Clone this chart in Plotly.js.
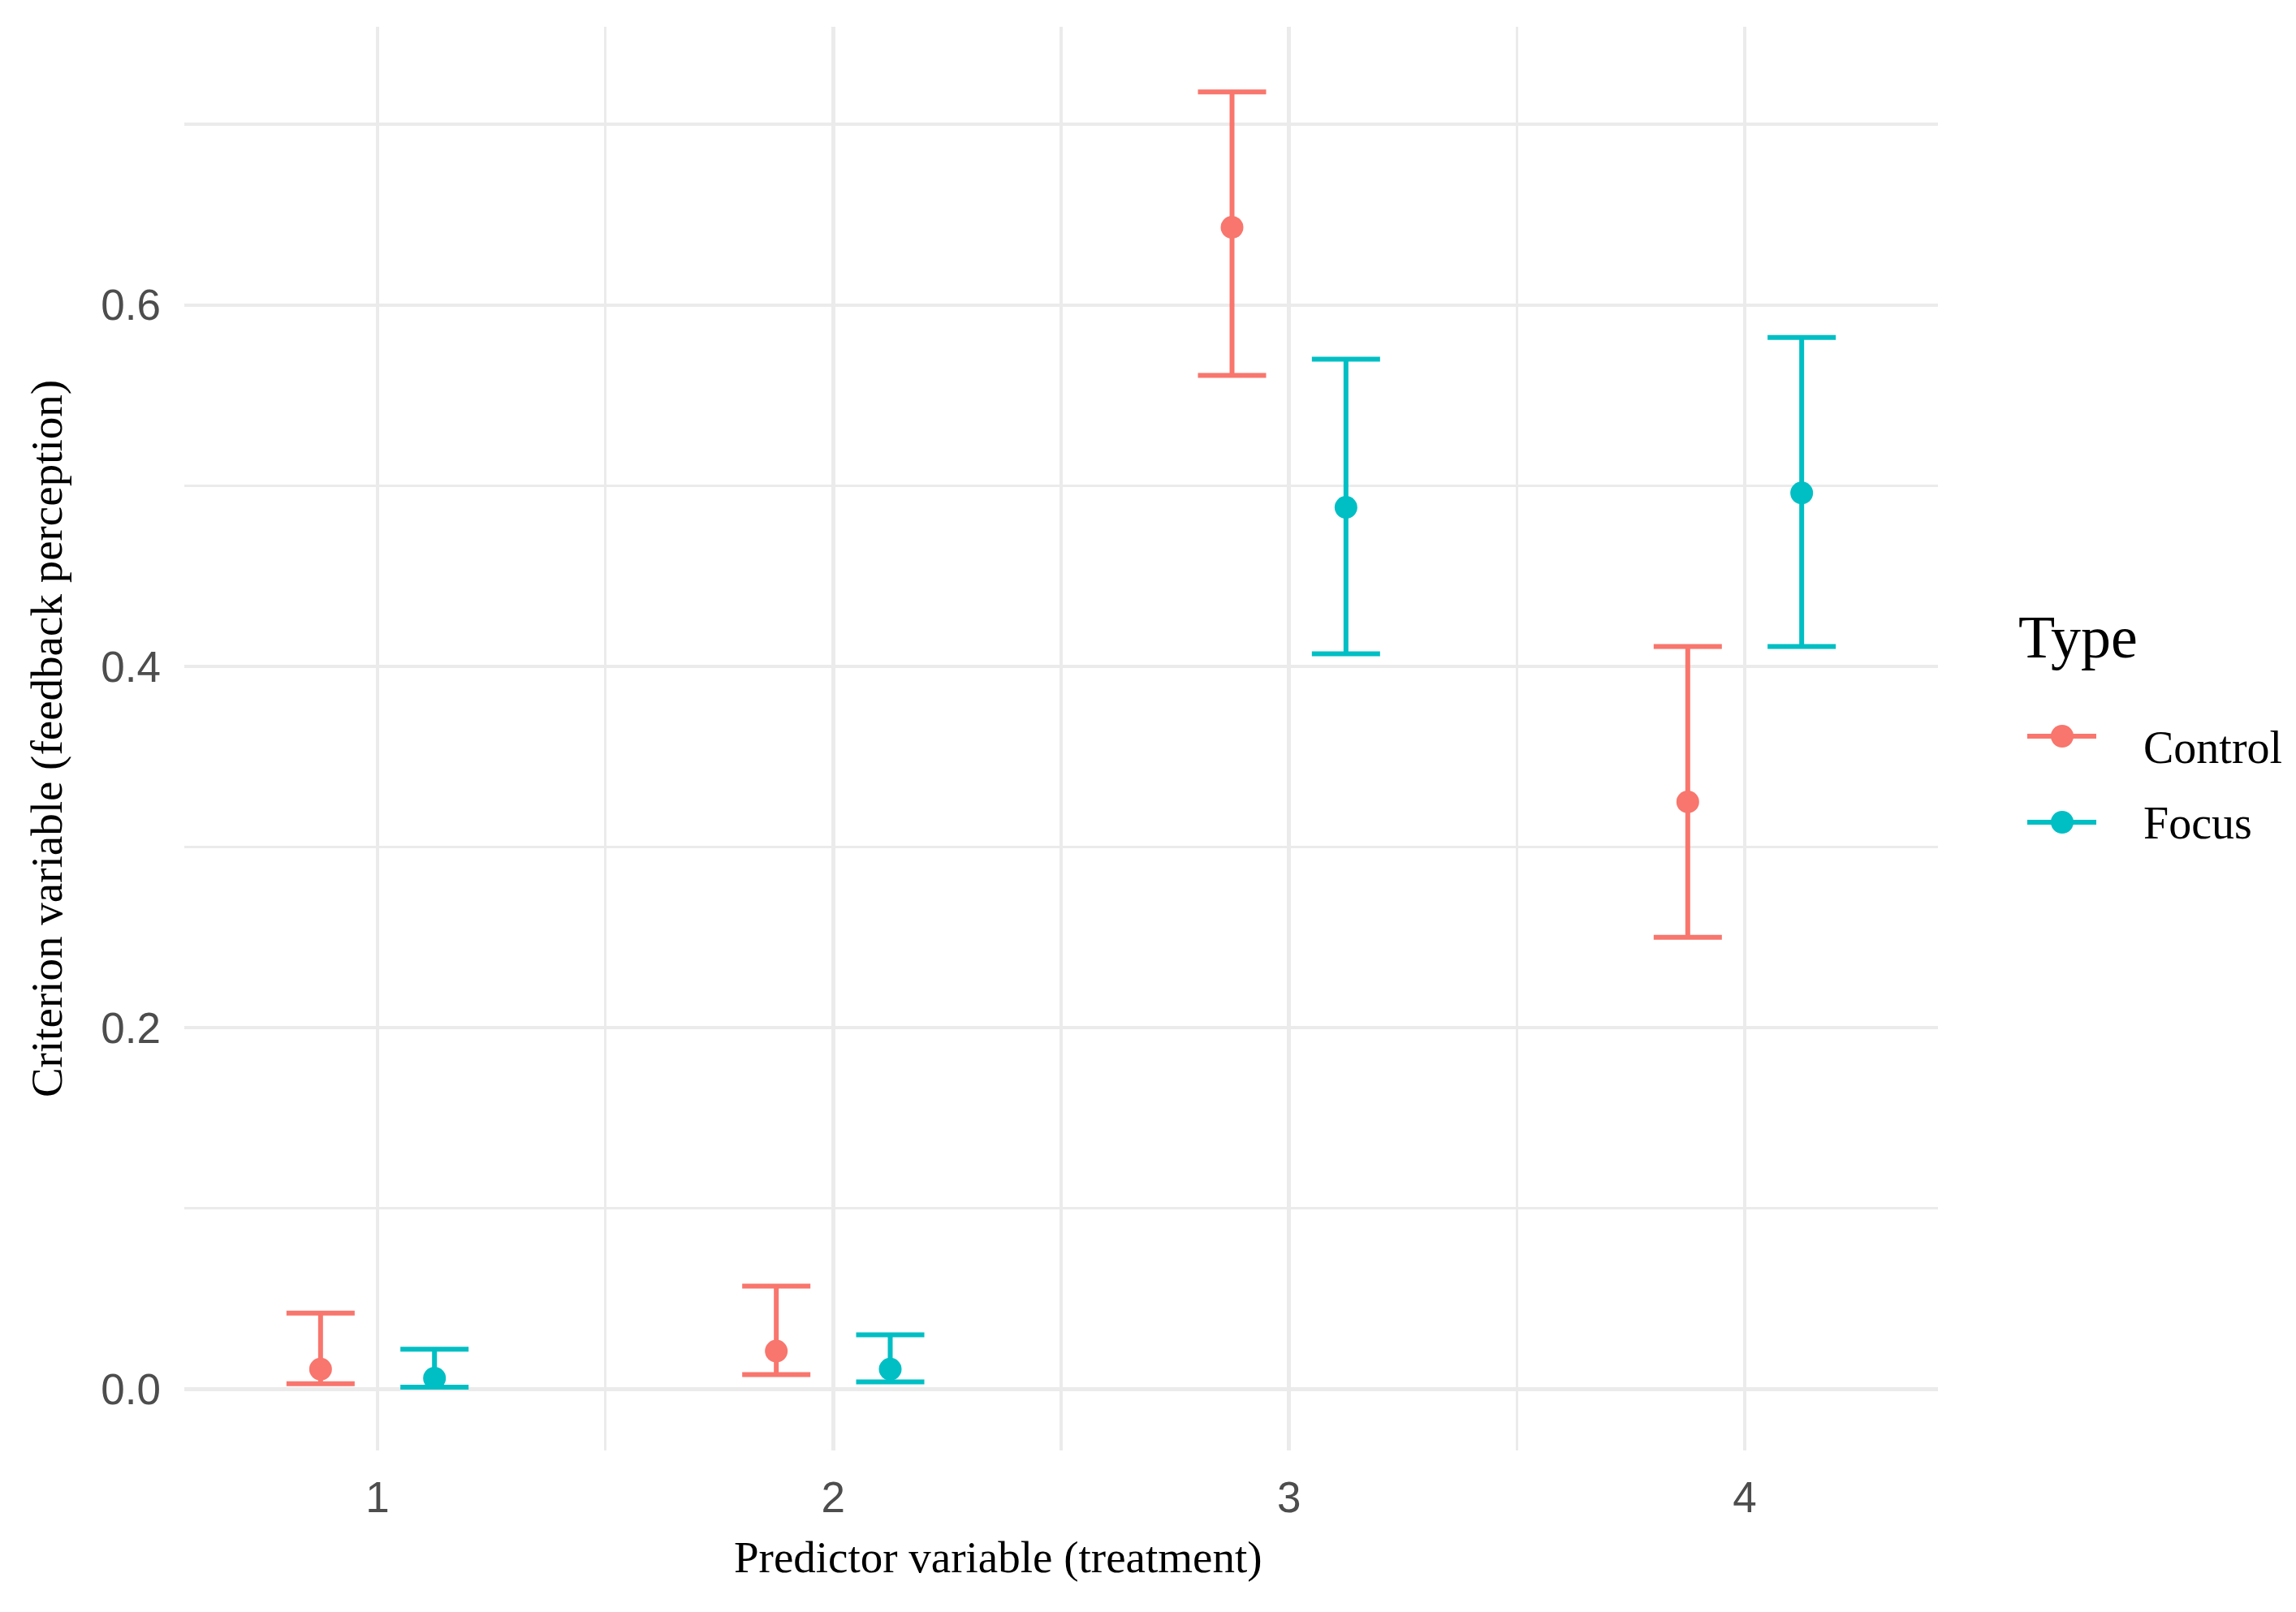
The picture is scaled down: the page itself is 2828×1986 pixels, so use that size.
<!DOCTYPE html>
<html>
<head>
<meta charset="utf-8">
<script src="https://cdn.plot.ly/plotly-3.0.1.min.js"></script>
<style>
html, body { margin: 0; padding: 0; background: #ffffff; }
#chart { width: 2828px; height: 1986px; }
</style>
</head>
<body>
<div id="chart"></div>
<script>
// ---- Data ----
const categories = [1, 2, 3, 4];
const xTickLabels = ["1", "2", "3", "4"];
const yTickValues = [0, 0.2, 0.4, 0.6];
const yTickLabels = ["0.0", "0.2", "0.4", "0.6"];
const seriesNames = ["Control", "Focus"];

const controlMean  = [0.011, 0.021, 0.643, 0.325];
const controlUpper = [0.042, 0.057, 0.718, 0.411];
const controlLower = [0.003, 0.008, 0.561, 0.250];

const focusMean  = [0.006, 0.011, 0.488, 0.496];
const focusUpper = [0.022, 0.030, 0.570, 0.582];
const focusLower = [0.001, 0.004, 0.407, 0.411];

// ---- Styling / layout constants ----
const COLORS = ["#F8766D", "#00BFC4"];
const DODGE = 0.125;
const W = 2828, H = 1986;
const PL = 227, PR = 2387, PT = 33, PB = 1787;
const SERIF = "Liberation Serif, Times New Roman, serif";
const SANS = "Liberation Sans, Arial, Helvetica, sans-serif";
const GRID = "#EBEBEB";

const px2x = p => (p - PL) / (PR - PL);
const px2y = p => (PB - p) / (PB - PT);

function makeTrace(name, mean, upper, lower, color, offset) {
  return {
    type: "scatter",
    mode: "markers",
    name: name,
    x: categories.map(c => c + offset),
    y: mean,
    marker: { color: color, size: 28, line: { width: 0 } },
    error_y: {
      type: "data",
      symmetric: false,
      array: upper.map((u, i) => u - mean[i]),
      arrayminus: lower.map((l, i) => mean[i] - l),
      color: color,
      thickness: 6,
      width: 42
    },
    showlegend: false,
    cliponaxis: false
  };
}

const traces = [
  makeTrace(seriesNames[0], controlMean, controlUpper, controlLower, COLORS[0], -DODGE),
  makeTrace(seriesNames[1], focusMean, focusUpper, focusLower, COLORS[1], DODGE)
];

// ---- Custom legend (ggplot style) ----
const legendRows = [
  { name: seriesNames[0], color: COLORS[0], symY: 907, textY: 921 },
  { name: seriesNames[1], color: COLORS[1], symY: 1013, textY: 1014 }
];
const shapes = [];
const annotations = [];
legendRows.forEach(r => {
  shapes.push({
    type: "line", xref: "paper", yref: "paper",
    x0: px2x(2497), x1: px2x(2582), y0: px2y(r.symY), y1: px2y(r.symY),
    line: { color: r.color, width: 6 }
  });
  shapes.push({
    type: "circle", xref: "paper", yref: "paper",
    xsizemode: "pixel", ysizemode: "pixel",
    xanchor: px2x(2540), yanchor: px2y(r.symY),
    x0: -14, x1: 14, y0: -14, y1: 14,
    fillcolor: r.color, line: { width: 0 }
  });
  annotations.push({
    xref: "paper", yref: "paper",
    x: px2x(2638), y: px2y(r.textY),
    xanchor: "left", yanchor: "middle",
    text: r.name, showarrow: false,
    font: { family: SERIF, size: 56, color: "#000000" }
  });
});
annotations.push({
  xref: "paper", yref: "paper",
  x: px2x(2484), y: px2y(785),
  xanchor: "left", yanchor: "middle",
  text: "Type", showarrow: false,
  font: { family: SERIF, size: 74, color: "#000000" }
});
// x axis title (slightly left of panel centre, as in the reference)
annotations.push({
  xref: "paper", yref: "paper",
  x: px2x(1229), y: px2y(1919),
  xanchor: "center", yanchor: "middle",
  text: "Predictor variable (treatment)", showarrow: false,
  font: { family: SERIF, size: 55, color: "#000000" }
});

const layout = {
  width: W, height: H, autosize: false,
  paper_bgcolor: "#ffffff", plot_bgcolor: "#ffffff",
  margin: { l: PL, r: W - PR, t: PT, b: H - PB, pad: 0 },
  showlegend: false,
  font: { family: SANS, color: "#4D4D4D" },
  xaxis: {
    range: [0.576, 4.424],
    tickmode: "array", tickvals: categories, ticktext: xTickLabels,
    showgrid: true, gridcolor: GRID, gridwidth: 4.5,
    minor: { tickmode: "array", tickvals: [1.5, 2.5, 3.5], showgrid: true, gridcolor: GRID, gridwidth: 3.5, ticks: "" },
    zeroline: false, showline: false, ticks: "",
    ticklabelstandoff: 22,
    tickfont: { family: SANS, size: 53, color: "#4D4D4D" }
  },
  yaxis: {
    range: [-0.034, 0.754],
    tickmode: "array", tickvals: yTickValues, ticktext: yTickLabels,
    showgrid: true, gridcolor: GRID, gridwidth: 4.5,
    minor: { tickmode: "array", tickvals: [0.1, 0.3, 0.5, 0.7], showgrid: true, gridcolor: GRID, gridwidth: 3.5, ticks: "" },
    zeroline: false, showline: false, ticks: "",
    ticklabelstandoff: 28,
    tickfont: { family: SANS, size: 53, color: "#4D4D4D" },
    title: {
      text: "Criterion variable (feedback perception)",
      font: { family: SERIF, size: 55, color: "#000000" },
      standoff: 30
    }
  },
  shapes: shapes,
  annotations: annotations
};

Plotly.newPlot("chart", traces, layout, { displayModeBar: false, staticPlot: true });
</script>
</body>
</html>
